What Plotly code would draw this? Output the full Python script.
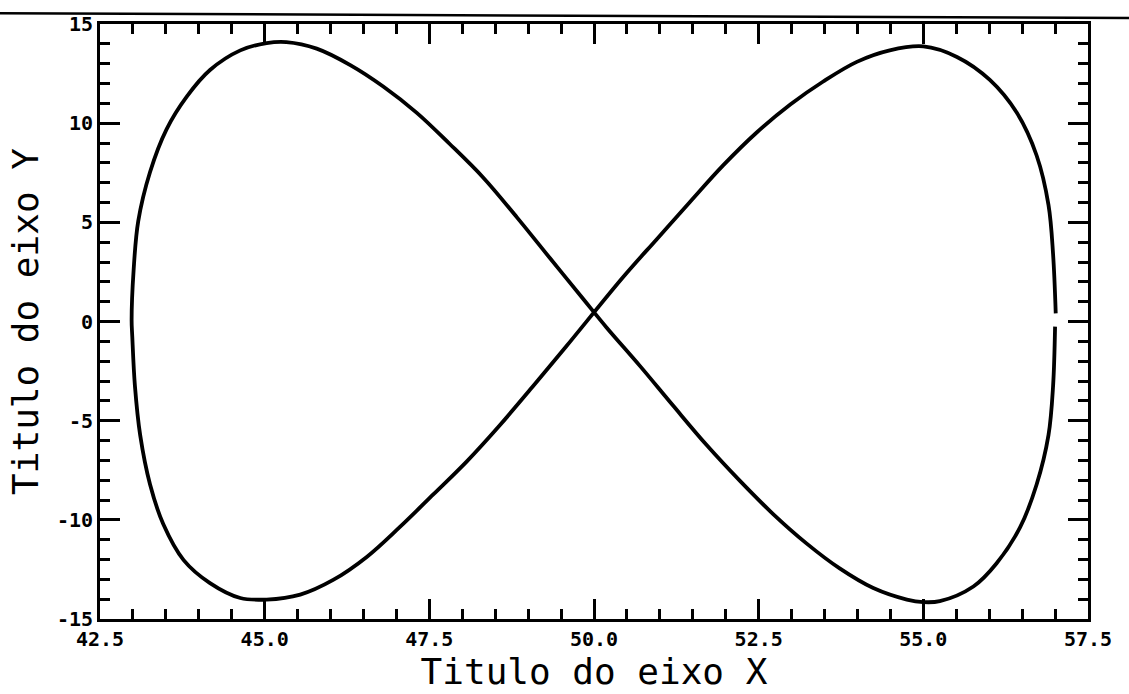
import plotly.graph_objects as go

# Curve samples, in drawing order (starting just above y=0 on the right side)
x_vals = [57.01, 56.97, 56.90, 56.72, 56.42, 56.01, 55.51, 55.00, 54.49, 53.99,
          53.48, 52.98, 52.47, 51.96, 51.46, 50.95, 50.44, 49.58, 49.08, 48.57,
          48.07, 47.56, 47.05, 46.55, 46.04, 45.54, 45.03, 44.63, 44.17, 43.77,
          43.46, 43.26, 43.11, 43.03, 42.99, 42.98, 43.01, 43.08, 43.26, 43.51,
          43.82, 44.17, 44.63, 45.03, 45.33, 45.79, 46.30, 46.80, 47.31, 47.81,
          48.32, 48.83, 49.33, 49.84, 50.19, 50.70, 51.20, 51.71, 52.22, 52.72,
          53.23, 53.73, 54.24, 54.75, 55.00, 55.25, 55.76, 56.11, 56.47, 56.72,
          56.90, 56.97, 57.00]
y_vals = [0.41, 3.39, 5.88, 8.37, 10.52, 12.18, 13.34, 13.87, 13.67, 13.09,
          12.10, 10.94, 9.53, 7.87, 6.04, 4.14, 2.23, -1.25, -3.24, -5.23,
          -7.05, -8.72, -10.37, -11.87, -13.03, -13.77, -14.02, -13.94, -13.19, -12.03,
          -10.21, -8.22, -5.73, -3.24, -0.75, 0.07, 2.56, 5.05, 7.54, 9.69,
          11.35, 12.68, 13.67, 14.04, 14.09, 13.76, 12.93, 11.85, 10.52, 8.95,
          7.25, 5.25, 3.20, 1.12, -0.30, -2.25, -4.24, -6.23, -8.05, -9.71,
          -11.20, -12.45, -13.44, -14.02, -14.15, -14.10, -13.36, -12.20, -10.37, -8.22,
          -5.73, -3.24, -0.26]

x_ticks = [42.5, 45.0, 47.5, 50.0, 52.5, 55.0, 57.5]
x_ticklabels = ["42.5", "45.0", "47.5", "50.0", "52.5", "55.0", "57.5"]
y_ticks = [-15, -10, -5, 0, 5, 10, 15]
y_ticklabels = ["-15", "-10", "-5", "0", "5", "10", "15"]

x_title = "Titulo do eixo X"
y_title = "Titulo do eixo Y"

tick_font = dict(family="DejaVu Sans Mono", size=20, color="black", weight="bold")
title_font = dict(family="DejaVu Sans Mono", size=36, color="black")

fig = go.Figure()
fig.add_trace(go.Scatter(
    x=x_vals, y=y_vals, mode="lines",
    line=dict(color="black", width=3.8, shape="spline", smoothing=1.0),
    showlegend=False, hoverinfo="skip",
))

axis_common = dict(
    showgrid=False, zeroline=False,
    showline=True, linecolor="black", linewidth=3, mirror="ticks",
    ticks="inside", ticklen=20, tickwidth=3, tickcolor="black",
    tickfont=tick_font, tickmode="array",
)

fig.update_xaxes(
    range=[42.5, 57.5], tickvals=x_ticks, ticktext=x_ticklabels,
    minor=dict(tickmode="linear", tick0=42.5, dtick=0.5, ticks="inside",
               ticklen=10, tickwidth=3, tickcolor="black"),
    title=dict(text=x_title, font=title_font, standoff=6),
    **axis_common,
)
fig.update_yaxes(
    range=[-15, 15], tickvals=y_ticks, ticktext=y_ticklabels,
    minor=dict(tickmode="linear", tick0=-15, dtick=1, ticks="inside",
               ticklen=10, tickwidth=3, tickcolor="black"),
    title=dict(text=y_title, font=title_font, standoff=8),
    **axis_common,
)

# page edge running across the top
fig.add_shape(type="line", xref="paper", yref="paper",
              x0=-0.102, y0=1.018, x1=1.042, y1=1.010,
              line=dict(color="black", width=2.5))

fig.update_layout(
    width=1129, height=694,
    margin=dict(l=100, r=41, t=18, b=73),
    paper_bgcolor="white", plot_bgcolor="white",
)

fig.write_html("out.html")
